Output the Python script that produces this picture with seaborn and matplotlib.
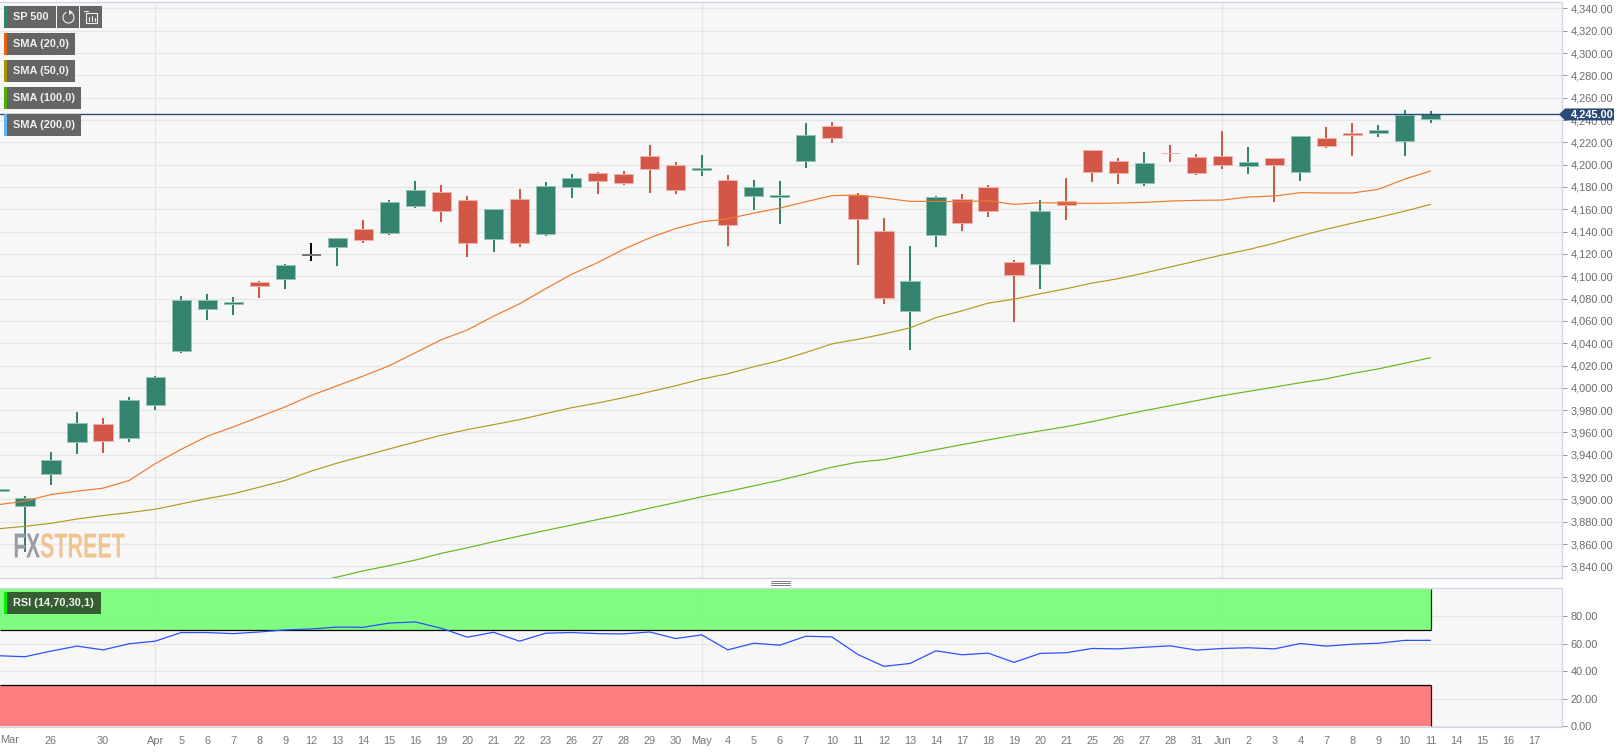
import numpy as np
import matplotlib
matplotlib.use("Agg")
import matplotlib.pyplot as plt
import matplotlib.patheffects as pe
from matplotlib.patches import Rectangle, Polygon, Arc
from matplotlib.lines import Line2D
from matplotlib.transforms import IdentityTransform, Affine2D
import seaborn as sns

# ---------------------------
# Data (first candle is the one cut off by the left edge)
# ---------------------------
opens = [3908, 3894, 3923, 3951.8, 3967.4, 3954.8, 3984.5, 4033.4, 4070.3, 4075, 4094.9, 4097.9, 4119.2, 4126.4,
         4142.6, 4138.4, 4163.2, 4175.5, 4168, 4133.2, 4169.2, 4137.7, 4180.3, 4192.6, 4191.4, 4208.2, 4200.1,
         4195.5, 4186.6, 4171.9, 4171.2, 4203.4, 4234.6, 4172.8, 4140.1, 4069, 4136.8, 4168.9, 4179.7, 4113.1,
         4111, 4167.4, 4212.7, 4203.1, 4183.9, 4210.7, 4207.3, 4208.2, 4198.6, 4206.4, 4193.8, 4224.1, 4228.3,
         4228, 4221.2, 4240.5]
highs = [3912, 3903, 3942.5, 3978.5, 3973, 3992, 4010.9, 4082, 4083.8, 4081, 4095.5, 4111, 4129.7, 4134.5,
         4150.4, 4168, 4185.4, 4181.8, 4171.9, 4160.2, 4178.2, 4184.5, 4191.7, 4193.5, 4194.4, 4217.8, 4202.5,
         4208.8, 4190.8, 4186.3, 4185.4, 4237.6, 4238.5, 4174.3, 4152.1, 4126.9, 4171.9, 4173.7, 4181.8, 4114.3,
         4168.3, 4188.1, 4212.7, 4206.1, 4211.5, 4217.8, 4209.7, 4230.4, 4216, 4206.4, 4225.6, 4234, 4237.6,
         4235.8, 4249, 4248.2]
lows = [3905, 3853, 3912.8, 3940.7, 3941.6, 3951.8, 3980.3, 4031.6, 4060.4, 4064.9, 4080.2, 4088.3, 4113.5, 4109,
        4129.7, 4137, 4161.1, 4148.5, 4117, 4121.5, 4126, 4135.9, 4170.1, 4173.7, 4181.8, 4174.6, 4173.7,
        4189.9, 4126.9, 4159.3, 4146.7, 4197.1, 4219.6, 4109.8, 4074.7, 4034.2, 4126, 4140.4, 4153, 4059.4,
        4088.2, 4150.3, 4184.5, 4182.7, 4180.9, 4202.5, 4190.8, 4196.2, 4191.7, 4166.5, 4185.4, 4215.1, 4207.9,
        4225, 4208, 4237.7]
closes = [3909, 3901.4, 3935.3, 3968.9, 3952.4, 3989.3, 4009.4, 4079, 4078.4, 4076.5, 4091.6, 4109.9, 4119.2, 4133.9,
          4132.7, 4166.3, 4177, 4158.1, 4130.2, 4160.2, 4129.6, 4181.2, 4187.8, 4185.1, 4183.9, 4196.5, 4177,
          4197, 4145.8, 4179.7, 4172.6, 4226.5, 4224.1, 4151.5, 4080.7, 4096, 4171.3, 4147.3, 4158.4, 4100.8,
          4158.4, 4163.8, 4193.2, 4192.6, 4201.9, 4210, 4192.6, 4200.1, 4202.5, 4199.5, 4225.6, 4216.9, 4226.8,
          4230.7, 4244.5, 4245]

sma_20 = [3895.4, 3898.4, 3904.4, 3907.4, 3910.1, 3917, 3932, 3944.9, 3956.6, 3965, 3974, 3983, 3993.2, 4001.9,
          4010.6, 4019.9, 4031.5, 4043.2, 4051.9, 4064.2, 4075.3, 4088.8, 4101.7, 4112.2, 4124.2, 4134.4, 4142.8,
          4148.8, 4151.5, 4156.6, 4161.1, 4166.8, 4172.2, 4172.8, 4170.1, 4167.1, 4167.1, 4166.8, 4167.7, 4164.4,
          4165.9, 4165.6, 4165.3, 4165.6, 4166.2, 4167.4, 4168, 4168.3, 4171, 4171.9, 4174.9, 4174.6, 4174.6,
          4177.9, 4187, 4194.3]
sma_50 = [3873.8, 3875.9, 3878.6, 3882.5, 3885.5, 3888.2, 3891.2, 3896, 3900.8, 3905, 3911, 3917, 3925.4, 3932.6,
          3938.9, 3945.3, 3951.5, 3957.5, 3962.6, 3967, 3971.5, 3976.9, 3982.2, 3986.4, 3991.2, 3996.5, 4001.9,
          4007.9, 4012.6, 4018.9, 4024.5, 4031.7, 4039.4, 4043.5, 4048.3, 4053.7, 4063, 4069, 4075.9, 4079.5,
          4084.3, 4088.8, 4093.9, 4097.8, 4102.9, 4108.3, 4113.7, 4119.1, 4123.9, 4129.6, 4136.2, 4142.2, 4147.6,
          4152.7, 4158.3, 4164.4]
sma_100 = [np.nan] * 12 + [3825, 3830.5, 3836, 3840.7, 3845.7, 3851.7, 3856.7, 3862.1, 3867.2, 3872.2, 3877, 3882,
           3886.8, 3892.2, 3897.2, 3902.4, 3907.1, 3912.2, 3917.2, 3922.9, 3928.9, 3933.4, 3935.7, 3940.2, 3944.7,
           3949.1, 3953.3, 3957.5, 3961.4, 3965.2, 3969.7, 3974.8, 3979.5, 3984, 3988.5, 3993, 3996.8, 4000.7,
           4004.6, 4008.1, 4012.9, 4017, 4022, 4027]
rsi = [51.1, 50.4, 54.5, 58.1, 55.4, 59.8, 61.7, 68, 68, 67.2, 68.4, 69.9, 70.6, 72, 71.8, 74.9, 75.7, 71.1, 64.6,
       68.2, 61.7, 67.5, 68, 67.2, 67, 68.4, 63.6, 66.3, 55.4, 60.2, 58.8, 65.3, 64.8, 52, 43.4, 45.5, 54.7, 51.8,
       53, 46.3, 52.8, 53.3, 56.4, 56.1, 57.3, 58.3, 55.2, 56.4, 56.9, 56.1, 60, 58.1, 59.5, 60.2, 62.3, 62.3]

x_labels = ["Mar", "", "26", "", "30", "", "Apr", "5", "6", "7", "8", "9", "12", "13", "14", "15", "16", "19", "20",
            "21", "22", "23", "26", "27", "28", "29", "30", "May", "4", "5", "6", "7", "10", "11", "12", "13", "14",
            "17", "18", "19", "20", "21", "25", "26", "27", "28", "31", "Jun", "2", "3", "4", "7", "8", "9", "10",
            "11", "14", "15", "16", "17"]
price_ticks = list(range(3840, 4341, 20))
rsi_ticks = [0, 20, 40, 60, 80]
last_price = 4245

# ---------------------------
# Style
# ---------------------------
UP = "#33836F"
DOWN = "#D25746"
UP_EDGE = "#93C2B6"
DOWN_EDGE = "#EDB3AB"
BG = "#F7F7F7"
GRID = "#E6E6E6"
SPINE = "#CFD5E6"
NAVY = "#2B4B76"
LABEL = "#6B6B6B"

sns.set_theme(style="whitegrid")
plt.rcParams["font.family"] = ["Liberation Sans", "DejaVu Sans"]
plt.rcParams["font.size"] = 7.9

W, H = 1623, 755
fig = plt.figure(figsize=(W / 100, H / 100), dpi=100, facecolor="white")
ax = fig.add_axes([0, 1 - 578 / H, 1562 / W, 576.5 / H], facecolor=BG)
ax_rsi = fig.add_axes([0, 1 - 726.7 / H, 1562 / W, 139 / H], facecolor=BG, sharex=ax)

xpos = np.arange(len(opens))


def px_y(y):
    return H - y


def chip(x0, x1, y0, y1, color):
    fig.add_artist(Rectangle((x0, px_y(y1)), x1 - x0, y1 - y0, facecolor=color, edgecolor="none",
                             transform=IdentityTransform()))


def px_text(x, y, s, **kw):
    fig.text(x / W, 1 - y / H, s, va="center", **kw)


class SqueezeX(pe.AbstractPathEffect):
    # no condensed font installed, so narrow the glyph outlines for the logo
    def __init__(self, factor, x0):
        super().__init__()
        self.factor = factor
        self.x0 = x0

    def draw_path(self, renderer, gc, tpath, affine, rgbFace=None):
        squeeze = Affine2D().translate(-self.x0, 0).scale(self.factor, 1).translate(self.x0, 0)
        renderer.draw_path(gc, tpath, affine + squeeze, rgbFace)


# ---------------------------
# Candles
# ---------------------------
for i in xpos:
    o, c = opens[i], closes[i]
    if c > o:
        body, edge, wick = UP, UP_EDGE, UP
    elif c < o:
        body, edge, wick = DOWN, DOWN_EDGE, DOWN
    else:
        body, edge, wick = "#777777", "#777777", "black"
    ax.vlines(i, lows[i], highs[i], color=wick, lw=1.44, zorder=3)
    ax.bar(i, abs(c - o), bottom=min(o, c), width=0.74, color=body, edgecolor=edge,
           linewidth=1.44 if c == o else 0.72, zorder=4)

# ---------------------------
# Moving averages and RSI
# ---------------------------
sns.lineplot(x=xpos, y=sma_20, ax=ax, color="#EE7A2C", linewidth=0.85, legend=False, zorder=5)
sns.lineplot(x=xpos, y=sma_50, ax=ax, color="#B39B1E", linewidth=0.85, legend=False, zorder=5)
sns.lineplot(x=xpos, y=sma_100, ax=ax, color="#66B81C", linewidth=0.85, legend=False, zorder=5)
ax.axhline(last_price, color=NAVY, lw=1.0, zorder=6)

last_x = xpos[-1]
x_left = 0.04
ax_rsi.fill_between([x_left, last_x], 70, 100, color="#7CFD7C", alpha=0.97, lw=0, zorder=2)
ax_rsi.fill_between([x_left, last_x], 0, 30, color="#FE7A7A", alpha=0.97, lw=0, zorder=2)
ax_rsi.hlines([70, 30], x_left, last_x, color="black", lw=0.9, zorder=3)
ax_rsi.vlines(last_x, 70, 100, color="#0B3A0B", lw=0.9, zorder=3)
ax_rsi.vlines(last_x, 0, 30, color="#3A0B0B", lw=0.9, zorder=3)
sns.lineplot(x=xpos, y=rsi, ax=ax_rsi, color="#2B52FF", linewidth=0.9, legend=False, zorder=4)

# ---------------------------
# Axes
# ---------------------------
ax.set_xlim(x_left, 60.05)
ax.set_ylim(3829.6, 4346.2)
ax_rsi.set_ylim(-0.5, 100.6)

tick_pos = [k for k, s in enumerate(x_labels) if s and s != "Mar"]
ax_rsi.set_xticks(tick_pos)
ax_rsi.set_xticklabels([x_labels[k] for k in tick_pos])
ax_rsi.tick_params(axis="x", length=3, width=0.72, color="#999999", labelcolor="#777777", labelsize=7.9, pad=3.5)
ax.tick_params(axis="x", length=0, labelbottom=False)
ax_rsi.text(0, -0.095, "Mar", transform=ax_rsi.transAxes, ha="left", va="center", color="#777777", fontsize=7.9)

ax.set_yticks(price_ticks)
ax.set_yticklabels([f"{v:,.2f}" for v in price_ticks])
ax_rsi.set_yticks(rsi_ticks)
ax_rsi.set_yticklabels([f"{v:.2f}" for v in rsi_ticks])

for a in (ax, ax_rsi):
    a.set_ylabel("")
    a.yaxis.tick_right()
    a.tick_params(axis="y", length=3.6, width=0.72, color="#999999", labelcolor=LABEL, labelsize=7.9, pad=2.5)
    a.grid(False)
    a.yaxis.grid(True, color=GRID, lw=0.9, zorder=1)
    a.set_axisbelow(True)
    a.spines["left"].set_visible(False)
    for side in ("top", "right", "bottom"):
        a.spines[side].set_color(SPINE)
        a.spines[side].set_linewidth(0.9)
    for k, s in enumerate(x_labels):
        if s in ("Apr", "May", "Jun"):
            a.axvline(k, color=GRID, lw=0.9, zorder=1)

# ---------------------------
# Legend chips, price tag, logo
# ---------------------------
chips = [("SMA (20,0)", 33, 75, "#E8620F"), ("SMA (50,0)", 60, 75, "#A89400"),
         ("SMA (100,0)", 87, 81, "#4CB000"), ("SMA (200,0)", 114, 81, "#5DB6F5")]

chip(4, 56, 6, 28, "#656565")
chip(4, 7, 6, 28, "#33836F")
px_text(13, 17, "SP 500", color="#F0F0F0", fontsize=7.9, fontweight="bold", zorder=10)
chip(57, 79, 6, 28, "#656565")
chip(80, 102, 6, 28, "#656565")
fig.add_artist(Arc((68.5, px_y(17.5)), 11, 11, theta1=-250, theta2=60, color="#F0F0F0", lw=0.8,
                   transform=IdentityTransform()))
fig.add_artist(Polygon([(69, px_y(10)), (73, px_y(12)), (69, px_y(15))], closed=True, facecolor="#F0F0F0",
                       edgecolor="none", transform=IdentityTransform()))
# small bar-chart icon
for seg in [[(86, 13), (97, 13)], [(86, 13), (86, 23)], [(86, 23), (97, 23)], [(97, 13), (97, 23)],
            [(89, 17), (89, 21)], [(92, 16), (92, 21)], [(95, 18), (95, 21)], [(84, 11), (88, 11)]]:
    fig.add_artist(Line2D([seg[0][0], seg[1][0]], [px_y(seg[0][1]), px_y(seg[1][1])], color="#F0F0F0", lw=0.8,
                          transform=IdentityTransform()))

for name, y0, x1, color in chips:
    chip(4, x1, y0, y0 + 22, "#656565")
    chip(4, 7, y0, y0 + 22, color)
    px_text(13, y0 + 11, name, color="#F0F0F0", fontsize=7.9, fontweight="bold", zorder=10)

chip(4, 101, 592, 614, "#355F33")
chip(4, 7, 592, 614, "#00F000")
px_text(13, 603, "RSI (14,70,30,1)", color="#F0F0F0", fontsize=7.9, fontweight="bold", zorder=10)

# price tag sits on the last price, so take its height from the axes scale
tag_y = ax.transData.transform((0, last_price))[1]
fig.add_artist(Polygon([(1559, tag_y), (1565, tag_y + 6), (1614, tag_y + 6), (1614, tag_y - 6), (1565, tag_y - 6)],
                       closed=True, facecolor=NAVY, edgecolor="none", transform=IdentityTransform(), zorder=8))
fig.text(1570.7 / W, tag_y / H, f"{last_price:,.2f}", color="white", fontsize=7.9, fontweight="bold",
         ha="left", va="center", zorder=9)

# resize handle between the panels
for y in (581, 583, 585):
    fig.add_artist(Line2D([771, 790], [px_y(y), px_y(y)], color="#777777", lw=0.7, transform=IdentityTransform()))

# logo, squeezed towards the point where the two words meet
logo_y = 548
px_text(40, logo_y, "FX", color="#9A9CA6", fontsize=25, fontweight="bold", ha="right", zorder=10,
        path_effects=[SqueezeX(0.60, 40)])
px_text(40, logo_y, "STREET", color="#F1C48F", fontsize=25, fontweight="bold", ha="left", zorder=10,
        path_effects=[SqueezeX(0.62, 40)])

fig.savefig("out.png", dpi=100)
